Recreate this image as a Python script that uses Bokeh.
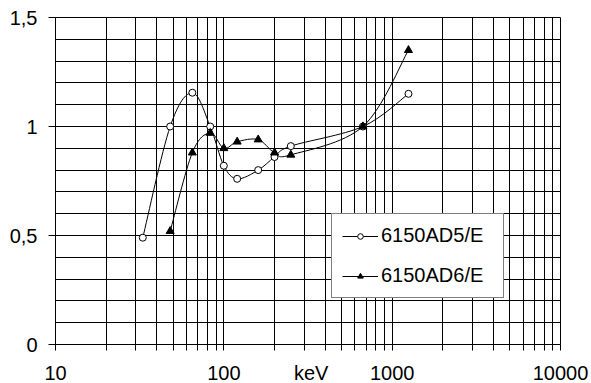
import numpy as np
from bokeh.plotting import figure
from bokeh.models import FixedTicker, Legend, LegendItem
from bokeh.embed import file_html
from bokeh.resources import INLINE

# ---- data ----
energy_ad5 = [33, 48, 65, 83, 100, 120, 160, 200, 250, 670, 1250]
resp_ad5 = [0.49, 1.0, 1.155, 1.0, 0.82, 0.76, 0.80, 0.86, 0.91, 1.0, 1.15]
energy_ad6 = [48, 65, 83, 100, 120, 160, 200, 250, 670, 1250]
resp_ad6 = [0.52, 0.88, 0.97, 0.90, 0.93, 0.94, 0.88, 0.87, 1.0, 1.35]
series_names = ["6150AD5/E", "6150AD6/E"]
x_major = [10, 100, 1000, 10000]
x_labels = {10: "10", 100: "100", 330: "keV", 1000: "1000", 10000: "10000"}
y_major = [0, 0.5, 1, 1.5]
y_labels = {0: "0", 0.5: "0,5", 1: "1", 1.5: "1,5"}

FONT = "Liberation Sans"


def smooth_segments(xs, ys):
    """Catmull-Rom style control points (in log-x / linear-y space) for bezier segments."""
    lx = np.log10(np.asarray(xs, dtype=float))
    y = np.asarray(ys, dtype=float)
    P = np.column_stack([lx, y])
    n = len(P)
    Pp = np.vstack([P[0], P, P[-1]])
    i = np.arange(n - 1)
    c0 = P[i] + (Pp[i + 2] - Pp[i]) / 6.0
    c1 = P[i + 1] - (Pp[i + 3] - Pp[i + 1]) / 6.0
    return dict(
        x0=10 ** P[i, 0], y0=P[i, 1],
        x1=10 ** P[i + 1, 0], y1=P[i + 1, 1],
        cx0=10 ** c0[:, 0], cy0=c0[:, 1],
        cx1=10 ** c1[:, 0], cy1=c1[:, 1],
    )


p = figure(frame_width=505, frame_height=327, x_axis_type="log",
           x_range=(10, 10000), y_range=(0, 1.5),
           output_backend="svg", toolbar_location=None,
           min_border_left=55, min_border_right=31,
           min_border_top=17, min_border_bottom=30)

p.outline_line_color = "black"
p.outline_line_width = 1
p.background_fill_color = "white"
p.border_fill_color = "white"

minor_x = [m * 10 ** k for k in range(1, 4) for m in range(1, 10)] + [10000]
minor_y = [k / 10 for k in range(16)]

# grids
p.xgrid.ticker = FixedTicker(ticks=x_major, minor_ticks=minor_x)
p.xgrid.grid_line_color = "black"
p.xgrid.minor_grid_line_color = "black"
p.ygrid.ticker = FixedTicker(ticks=y_major, minor_ticks=minor_y)
p.ygrid.grid_line_color = "black"
p.ygrid.minor_grid_line_color = "black"

# x axis
xa = p.xaxis[0]
xa.ticker = FixedTicker(ticks=sorted(x_labels.keys()), minor_ticks=minor_x)
xa.major_label_overrides = x_labels
xa.major_tick_out = 0
xa.major_tick_in = 0
xa.minor_tick_out = 6
xa.minor_tick_in = 0
xa.minor_tick_line_color = "black"
xa.axis_line_color = "black"
xa.major_label_text_font = FONT
xa.major_label_text_font_size = "20px"
xa.major_label_text_color = "black"
xa.major_label_standoff = 11

# y axis
ya = p.yaxis[0]
ya.ticker = FixedTicker(ticks=y_major)
ya.major_label_overrides = y_labels
ya.major_tick_out = 7
ya.major_tick_in = 0
ya.major_tick_line_color = "black"
ya.minor_tick_out = 0
ya.minor_tick_in = 0
ya.axis_line_color = "black"
ya.major_label_text_font = FONT
ya.major_label_text_font_size = "20px"
ya.major_label_text_color = "black"
ya.major_label_standoff = 11

# series
b1 = p.bezier(source=smooth_segments(energy_ad5, resp_ad5),
              x0="x0", y0="y0", x1="x1", y1="y1",
              cx0="cx0", cy0="cy0", cx1="cx1", cy1="cy1",
              line_color="black", line_width=1)
s1 = p.scatter(energy_ad5, resp_ad5, marker="circle", size=7,
               fill_color="white", line_color="black", line_width=1)

b2 = p.bezier(source=smooth_segments(energy_ad6, resp_ad6),
              x0="x0", y0="y0", x1="x1", y1="y1",
              cx0="cx0", cy0="cy0", cx1="cx1", cy1="cy1",
              line_color="black", line_width=1)
s2 = p.scatter(energy_ad6, resp_ad6, marker="triangle", size=8,
               fill_color="black", line_color="black", line_width=1)

legend = Legend(items=[LegendItem(label=series_names[0], renderers=[b1, s1]),
                       LegendItem(label=series_names[1], renderers=[b2, s2])],
                location=(276, 46))
legend.padding = 10
legend.margin = 0
legend.spacing = 17
legend.glyph_width = 36
legend.glyph_height = 14
legend.label_standoff = 3
legend.label_height = 23
legend.label_width = 112
legend.label_text_font = FONT
legend.label_text_font_size = "20px"
legend.label_text_color = "black"
legend.border_line_color = "black"
legend.border_line_width = 1
legend.background_fill_color = "white"
legend.background_fill_alpha = 1
p.add_layout(legend, "center")

open("out.html", "w").write(file_html(p, INLINE))
